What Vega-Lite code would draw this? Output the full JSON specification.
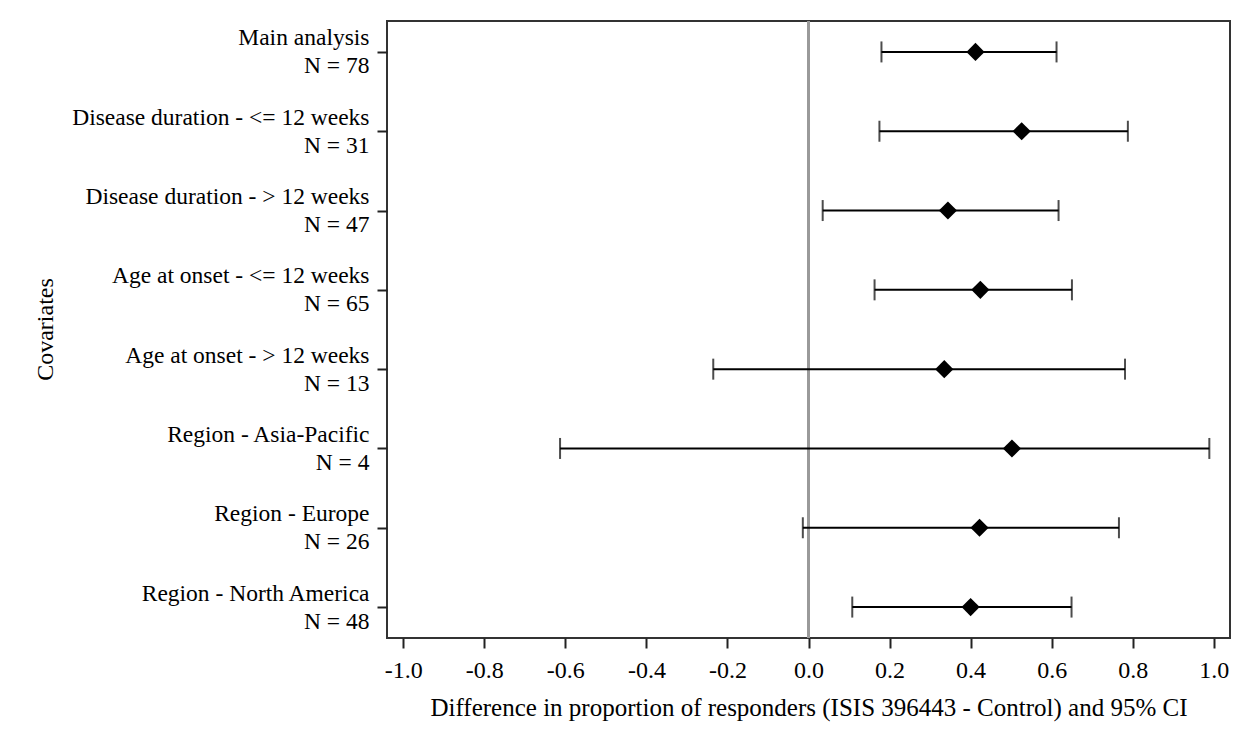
{
  "$schema": "https://vega.github.io/schema/vega-lite/v6.json",
  "width": 843,
  "height": 617,
  "autosize": {"type": "none"},
  "padding": {"left": 387, "top": 21, "right": 14, "bottom": 102},
  "background": "white",
  "config": {
    "font": "Liberation Serif",
    "view": {"stroke": "#333333", "strokeWidth": 2},
    "axis": {
      "labelFont": "Liberation Serif",
      "titleFont": "Liberation Serif",
      "labelColor": "#000000",
      "titleColor": "#000000",
      "labelFontSize": 24,
      "titleFontSize": 24,
      "titleFontWeight": "normal",
      "tickColor": "#222222",
      "tickWidth": 2,
      "tickSize": 10,
      "domain": false,
      "grid": false,
      "labelLimit": 0
    }
  },
  "data": {
    "values": [
      {"label": "Main analysis\nN = 78", "estimate": 0.412, "lower": 0.180, "upper": 0.612},
      {"label": "Disease duration - <= 12 weeks\nN = 31", "estimate": 0.526, "lower": 0.175, "upper": 0.788},
      {"label": "Disease duration - > 12 weeks\nN = 47", "estimate": 0.344, "lower": 0.035, "upper": 0.617},
      {"label": "Age at onset - <= 12 weeks\nN = 65", "estimate": 0.424, "lower": 0.163, "upper": 0.650},
      {"label": "Age at onset - > 12 weeks\nN = 13", "estimate": 0.335, "lower": -0.235, "upper": 0.781},
      {"label": "Region - Asia-Pacific\nN = 4", "estimate": 0.502, "lower": -0.613, "upper": 0.989},
      {"label": "Region - Europe\nN = 26", "estimate": 0.422, "lower": -0.014, "upper": 0.766},
      {"label": "Region - North America\nN = 48", "estimate": 0.400, "lower": 0.108, "upper": 0.649}
    ]
  },
  "encoding": {
    "y": {
      "field": "label",
      "type": "nominal",
      "sort": null,
      "scale": {"type": "point", "padding": 0.39},
      "axis": {
        "title": "Covariates",
        "labelExpr": "split(datum.label, '\\n')",
        "labelFontSize": 23.5,
        "labelLineHeight": 28,
        "labelPadding": 8,
        "labelOffset": -14,
        "labelAlign": "right",
        "titleX": -335,
        "titleY": 308,
        "titleBaseline": "alphabetic",
        "titleAngle": -90,
        "titleAlign": "center"
      }
    }
  },
  "layer": [
    {
      "mark": {"type": "rule", "color": "#9a9a9a", "strokeWidth": 2},
      "encoding": {"x": {"datum": 0}, "y": null}
    },
    {
      "mark": {"type": "rule", "color": "#000000", "strokeWidth": 2},
      "encoding": {
        "x": {
          "field": "lower",
          "type": "quantitative",
          "scale": {"domain": [-1.04, 1.04], "nice": false, "zero": false},
          "axis": {
            "title": "Difference in proportion of responders (ISIS 396443 - Control) and 95% CI",
            "titleFontSize": 25,
            "values": [-1, -0.8, -0.6, -0.4, -0.2, 0, 0.2, 0.4, 0.6, 0.8, 1],
            "labelExpr": "datum.value < 0 ? '-' + format(-datum.value, '.1f') : format(datum.value, '.1f')",
            "labelPadding": 10,
            "titlePadding": 13
          }
        },
        "x2": {"field": "upper"}
      }
    },
    {
      "mark": {"type": "tick", "color": "#000000", "thickness": 2, "size": 21, "orient": "vertical"},
      "encoding": {"x": {"field": "lower", "type": "quantitative"}}
    },
    {
      "mark": {"type": "tick", "color": "#000000", "thickness": 2, "size": 21, "orient": "vertical"},
      "encoding": {"x": {"field": "upper", "type": "quantitative"}}
    },
    {
      "mark": {"type": "point", "shape": "diamond", "filled": true, "color": "#000000", "size": 330, "opacity": 1},
      "encoding": {"x": {"field": "estimate", "type": "quantitative"}}
    }
  ]
}
